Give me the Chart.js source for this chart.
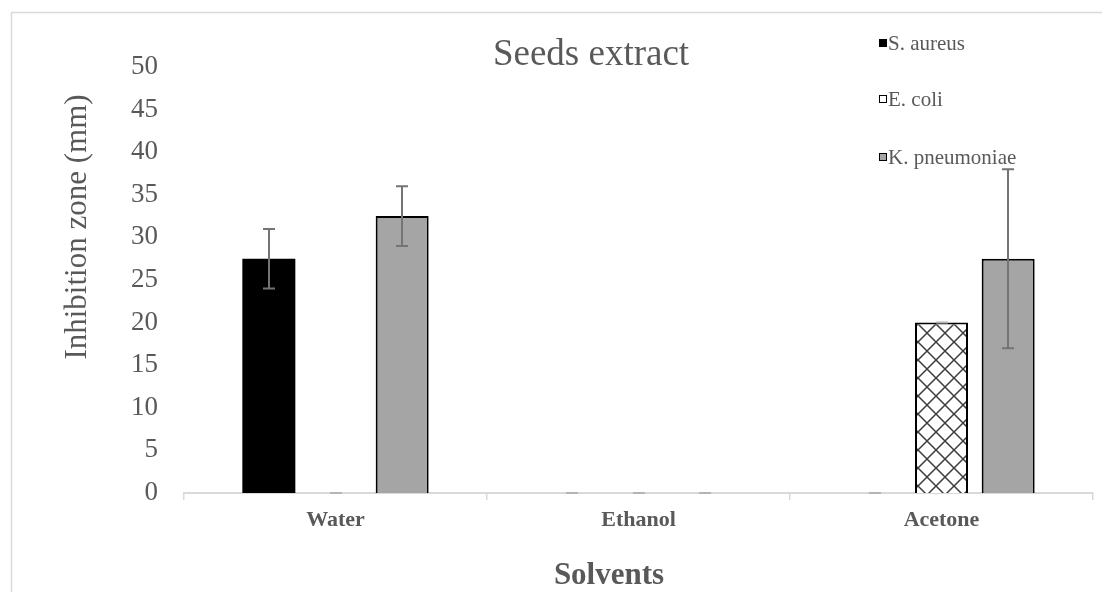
<!DOCTYPE html>
<html>
<head>
<meta charset="utf-8">
<script src="https://cdn.jsdelivr.net/npm/chart.js@4.4.1/dist/chart.umd.min.js"></script>
<style>
  html, body { margin: 0; padding: 0; background: #ffffff; }
  #wrap { width: 1102px; height: 592px; position: relative; }
</style>
</head>
<body>
<div id="wrap"><canvas id="c" width="1102" height="592"></canvas></div>
<script>
// ---- data ----
const categories = ["Water", "Ethanol", "Acetone"];
const seriesNames = ["S. aureus", "E. coli", "K. pneumoniae"];
const sAureus = [27.5, 0, 0];
const sAureusErr = [3.5, 0, 0];
const eColi = [0, 0, 20];
const eColiErr = [0, 0, 0];
const kPneumoniae = [32.5, 0, 27.5];
const kPneumoniaeErr = [3.5, 0, 10.5];
const yTicks = [0, 5, 10, 15, 20, 25, 30, 35, 40, 45, 50];
const chartTitle = "Seeds extract";
const xTitle = "Solvents";
const yTitle = "Inhibition zone (mm)";

const TEXT = "#595959";
const SERIF = "'Liberation Serif', 'Times New Roman', serif";

function makeHatch(size) {
  const c = document.createElement('canvas');
  c.width = size; c.height = size;
  const g = c.getContext('2d');
  g.fillStyle = '#ffffff';
  g.fillRect(0, 0, size, size);
  g.strokeStyle = '#3c3c3c';
  g.lineWidth = 1.5;
  g.beginPath();
  g.moveTo(0, 0); g.lineTo(size, size);
  g.moveTo(size, 0); g.lineTo(0, size);
  g.stroke();
  return document.getElementById('c').getContext('2d').createPattern(c, 'repeat');
}
const hatch = makeHatch(18);

const errors = [sAureusErr, eColiErr, kPneumoniaeErr];

const framePlugin = {
  id: 'frame',
  beforeDraw(chart) {
    const ctx = chart.ctx;
    ctx.save();
    ctx.fillStyle = '#ffffff';
    ctx.fillRect(0, 0, chart.width, chart.height);
    ctx.strokeStyle = '#d9d9d9';
    ctx.lineWidth = 1.5;
    ctx.beginPath();
    ctx.moveTo(11.5, chart.height);
    ctx.lineTo(11.5, 12.5);
    ctx.lineTo(chart.width, 12.5);
    ctx.stroke();
    ctx.restore();
  }
};

const errorBarPlugin = {
  id: 'errorBars',
  afterDatasetsDraw(chart) {
    const ctx = chart.ctx;
    const y = chart.scales.y;
    ctx.save();
    ctx.lineWidth = 2;
    chart.data.datasets.forEach((ds, di) => {
      const meta = chart.getDatasetMeta(di);
      meta.data.forEach((bar, i) => {
        const v = ds.data[i];
        const e = errors[di][i];
        const yTop = y.getPixelForValue(v + e);
        const yBot = y.getPixelForValue(v - e);
        const x = Math.round(bar.x);
        ctx.strokeStyle = e > 0 ? '#747474' : '#b4b4b4';
        ctx.beginPath();
        ctx.moveTo(x, yTop); ctx.lineTo(x, yBot);
        ctx.moveTo(x - 6, yTop); ctx.lineTo(x + 6, yTop);
        ctx.moveTo(x - 6, yBot); ctx.lineTo(x + 6, yBot);
        ctx.stroke();
      });
    });
    ctx.restore();
  }
};

const textPlugin = {
  id: 'texts',
  afterDraw(chart) {
    const ctx = chart.ctx;
    ctx.save();
    ctx.fillStyle = TEXT;
    ctx.textAlign = 'center';
    ctx.textBaseline = 'alphabetic';
    // chart title
    ctx.font = "37px " + SERIF;
    ctx.fillText(chartTitle, 591, 65);
    // x title
    ctx.font = "bold 31px " + SERIF;
    ctx.fillText(xTitle, 609, 584);
    // y title
    ctx.save();
    ctx.translate(86, 227);
    ctx.rotate(-Math.PI / 2);
    ctx.font = "31px " + SERIF;
    ctx.fillText(yTitle, 0, 0);
    ctx.restore();
    // legend
    const ly = [50, 106, 164];
    ctx.font = "21px " + SERIF;
    ctx.textAlign = 'left';
    chart.data.datasets.forEach((ds, i) => {
      const cy = ly[i] - 7;
      ctx.fillStyle = ds.backgroundColor;
      ctx.fillRect(879, cy - 4, 8, 8);
      ctx.strokeStyle = '#000000';
      ctx.lineWidth = 1;
      ctx.strokeRect(879.5, cy - 3.5, 7, 7);
      ctx.fillStyle = TEXT;
      ctx.fillText(ds.label, 888, ly[i]);
    });
    ctx.restore();
  }
};

new Chart(document.getElementById('c'), {
  type: 'bar',
  data: {
    labels: categories,
    datasets: [
      { label: seriesNames[0], data: sAureus, backgroundColor: '#000000', borderColor: '#000000', borderWidth: 0 },
      { label: seriesNames[1], data: eColi, backgroundColor: hatch, borderColor: '#000000', borderWidth: 2 },
      { label: seriesNames[2], data: kPneumoniae, backgroundColor: '#a5a5a5', borderColor: '#000000', borderWidth: 2 }
    ]
  },
  options: {
    responsive: false,
    animation: false,
    devicePixelRatio: 1,
    layout: { padding: { top: 67, right: 9, left: 0, bottom: 0 } },
    datasets: { bar: { categoryPercentage: 0.66, barPercentage: 0.795 } },
    plugins: {
      legend: { display: false },
      title: { display: false },
      tooltip: { enabled: false }
    },
    scales: {
      x: {
        offset: true,
        grid: { display: true, drawOnChartArea: false, drawTicks: true, tickLength: 7, color: '#d9d9d9', offset: true, lineWidth: 1.5 },
        border: { display: true, color: '#d9d9d9', width: 2 },
        ticks: { color: TEXT, font: { family: SERIF, size: 22, weight: 'bold' }, padding: 7, maxRotation: 0 },
        afterFit(scale) { scale.height = 99; }
      },
      y: {
        min: 0, max: 50,
        afterBuildTicks(scale) { scale.ticks = yTicks.map(v => ({ value: v })); },
        grid: { display: false, drawTicks: false },
        border: { display: false },
        ticks: { color: TEXT, font: { family: SERIF, size: 27 }, padding: 26 },
        afterFit(scale) { scale.width = 184; }
      }
    }
  },
  plugins: [framePlugin, errorBarPlugin, textPlugin]
});
</script>
</body>
</html>
